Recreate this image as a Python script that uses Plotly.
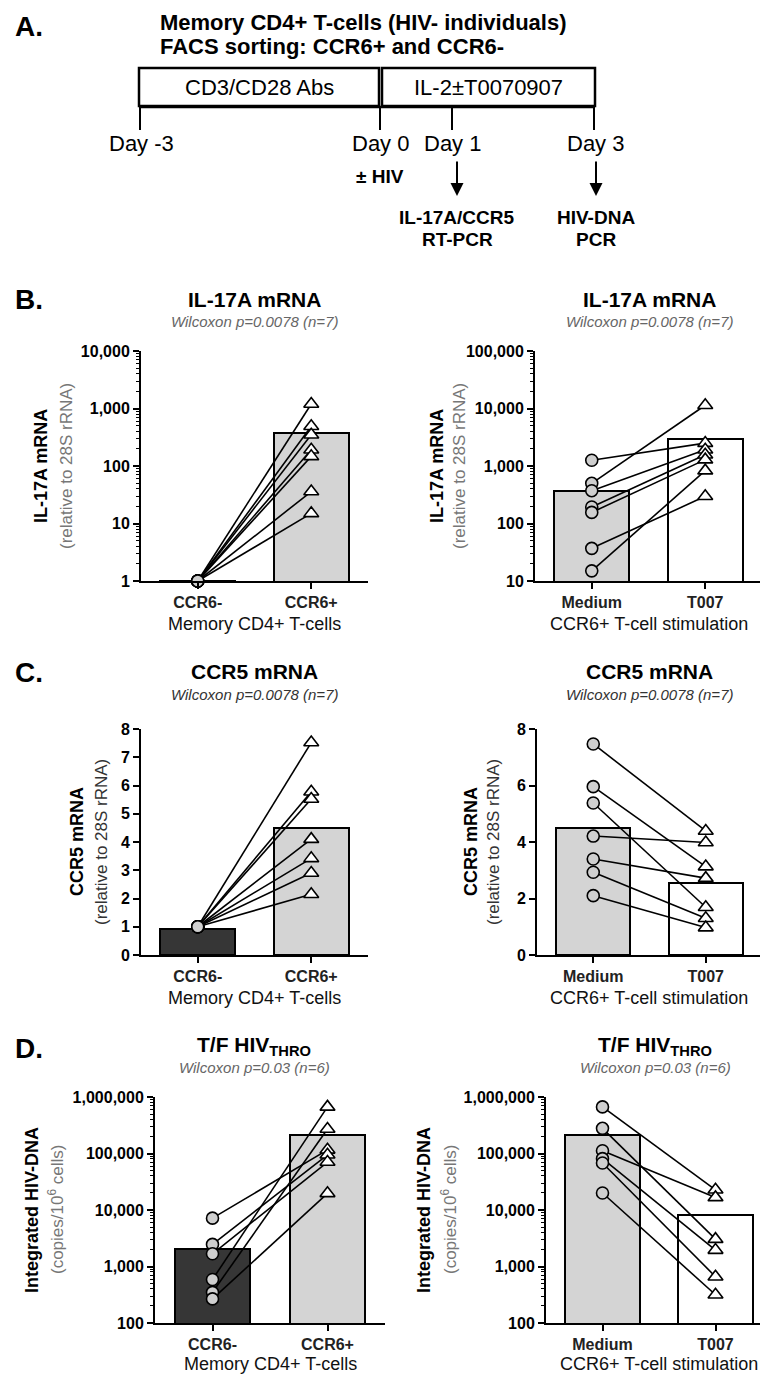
import math
import plotly.graph_objects as go

W, H = 768, 1376

# ---- values ----
mem_cats = ["CCR6-", "CCR6+"]
stim_cats = ["Medium", "T007"]

il17_ccr6_neg = [1, 1, 1, 1, 1, 1, 1]
il17_ccr6_pos = [1200, 490, 350, 192, 147, 36, 15]
il17_mem_bars = [1, 370]

il17_medium = [1260, 500, 372, 194, 156, 37, 15]
il17_t007 = [2500, 11400, 1920, 1570, 1290, 297, 830]
il17_stim_bars = [370, 2950]

ccr5_ccr6_neg = [1, 1, 1, 1, 1, 1, 1]
ccr5_ccr6_pos = [7.52, 5.78, 5.52, 4.10, 3.42, 2.90, 2.15]
ccr5_mem_bars = [0.93, 4.49]

ccr5_medium = [7.47, 5.96, 5.38, 4.21, 3.40, 2.93, 2.10]
ccr5_t007 = [4.39, 3.13, 1.69, 3.98, 2.72, 1.30, 0.97]
ccr5_stim_bars = [4.49, 2.56]

hiv_ccr6_neg = [7180, 2460, 1680, 590, 349, 267]
hiv_ccr6_pos = [116000, 95000, 70700, 668000, 271000, 19700]
hiv_mem_bars = [2060, 212000]

hiv_medium = [668000, 279000, 112000, 81000, 68000, 20000]
hiv_t007 = [22800, 3050, 16700, 1950, 660, 316]
hiv_stim_bars = [212000, 8020]

il17_mem_ticks = [1, 10, 100, 1000, 10000]
il17_stim_ticks = [10, 100, 1000, 10000, 100000]
ccr5_mem_ticks = [0, 1, 2, 3, 4, 5, 6, 7, 8]
ccr5_stim_ticks = [0, 2, 4, 6, 8]
hiv_ticks = [100, 1000, 10000, 100000, 1000000]

FONT = "Liberation Sans, Arial, sans-serif"
GREY = "#d4d4d4"
DARK = "#363636"


def px(x):
    return x / W


def py(y):
    return 1 - y / H


fig = go.Figure()
layout = {}
annotations = []


def add_panel(n, cats, left, right, bars, bar_colors, box, ytype, yticks):
    xa = "x" if n == 1 else f"x{n}"
    ya = "y" if n == 1 else f"y{n}"
    fig.add_trace(go.Bar(x=cats, y=bars, width=0.66,
                         marker=dict(color=bar_colors, line=dict(color="black", width=2)),
                         xaxis=xa, yaxis=ya))
    lx, ly = [], []
    for a, b in zip(left, right):
        lx += [cats[0], cats[1], None]
        ly += [a, b, None]
    fig.add_trace(go.Scatter(x=lx, y=ly, mode="lines", line=dict(color="black", width=1.6),
                             cliponaxis=False, xaxis=xa, yaxis=ya))
    fig.add_trace(go.Scatter(x=[cats[0]] * len(left), y=left, mode="markers", cliponaxis=False,
                             marker=dict(symbol="circle", size=12, color="#cfcfcf",
                                         line=dict(color="black", width=1.6)),
                             xaxis=xa, yaxis=ya))
    fig.add_trace(go.Scatter(x=[cats[1]] * len(right), y=right, mode="markers", cliponaxis=False,
                             marker=dict(symbol="triangle-up", size=13, color="white",
                                         line=dict(color="black", width=1.6)),
                             xaxis=xa, yaxis=ya))

    x0, x1, y0, y1 = box
    xkey = "xaxis" if n == 1 else f"xaxis{n}"
    ykey = "yaxis" if n == 1 else f"yaxis{n}"
    layout[xkey] = dict(domain=[px(x0), px(x1)], anchor=ya, range=[-0.5, 1.5],
                        showline=True, linewidth=2, linecolor="black",
                        ticks="outside", ticklen=6, tickwidth=2, tickcolor="black",
                        tickfont=dict(size=16, color="#222", weight="bold"),
                        showgrid=False, zeroline=False, automargin=False)
    yax = dict(domain=[py(y1), py(y0)], anchor=xa,
               showline=True, linewidth=2, linecolor="black",
               ticks="outside", ticklen=6, tickwidth=2, tickcolor="black",
               tickfont=dict(size=16, color="black", weight="bold"),
               tickmode="array", tickvals=yticks,
               showgrid=False, zeroline=False, automargin=False)
    if ytype == "log":
        yax.update(type="log", range=[math.log10(yticks[0]), math.log10(yticks[-1])],
                   ticktext=[f"{v:,}" for v in yticks],
                   minor=dict(ticks="outside", ticklen=3, tickwidth=1, tickcolor="black",
                              dtick="D1", showgrid=False))
    else:
        yax.update(range=[yticks[0], yticks[-1]], ticktext=[str(v) for v in yticks])
    layout[ykey] = yax


add_panel(1, mem_cats, il17_ccr6_neg, il17_ccr6_pos, il17_mem_bars, [DARK, GREY],
          (133, 360, 343, 573), "log", il17_mem_ticks)
add_panel(2, stim_cats, il17_medium, il17_t007, il17_stim_bars, [GREY, "white"],
          (527, 754, 343, 573), "log", il17_stim_ticks)
add_panel(3, mem_cats, ccr5_ccr6_neg, ccr5_ccr6_pos, ccr5_mem_bars, [DARK, GREY],
          (133, 360, 721, 947), "linear", ccr5_mem_ticks)
add_panel(4, stim_cats, ccr5_medium, ccr5_t007, ccr5_stim_bars, [GREY, "white"],
          (529, 754, 721, 947), "linear", ccr5_stim_ticks)
add_panel(5, mem_cats, hiv_ccr6_neg, hiv_ccr6_pos, hiv_mem_bars, [DARK, GREY],
          (147, 377, 1089, 1315), "log", hiv_ticks)
add_panel(6, stim_cats, hiv_medium, hiv_t007, hiv_stim_bars, [GREY, "white"],
          (538, 764, 1089, 1315), "log", hiv_ticks)


def text(x, y, s, size=16, color="black", angle=0, xanchor="center"):
    annotations.append(dict(x=px(x), y=py(y), xref="paper", yref="paper", text=s,
                            showarrow=False, textangle=angle, xanchor=xanchor, yanchor="middle",
                            font=dict(size=size, color=color, family=FONT)))


# panel letters
for letter, y in [("A.", 18), ("B.", 292), ("C.", 664), ("D.", 1040)]:
    text(5, y, f"<b>{letter}</b>", size=28, xanchor="left")

# panel titles and subtitles
titles = [
    (246, 291, 313, "IL-17A mRNA", "Wilcoxon p=0.0078 (n=7)", "#666"),
    (641, 291, 313, "IL-17A mRNA", "Wilcoxon p=0.0078 (n=7)", "#666"),
    (246, 663, 687, "CCR5 mRNA", "Wilcoxon p=0.0078 (n=7)", "#333"),
    (641, 663, 687, "CCR5 mRNA", "Wilcoxon p=0.0078 (n=7)", "#333"),
    (246, 1038, 1059, "T/F HIV<sub>THRO</sub>", "Wilcoxon p=0.03 (n=6)", "#666"),
    (647, 1038, 1059, "T/F HIV<sub>THRO</sub>", "Wilcoxon p=0.03 (n=6)", "#666"),
]
for x, yt, ys, t, s, c in titles:
    text(x, yt, f"<b>{t}</b>", size=21)
    text(x, ys, f"<i>{s}</i>", size=15, color=c)

# y-axis titles
ytitles = [
    (33, 58, 458, "IL-17A mRNA", "(relative to 28S rRNA)", "#777"),
    (429, 451, 458, "IL-17A mRNA", "(relative to 28S rRNA)", "#777"),
    (69, 93, 834, "CCR5 mRNA", "(relative to 28S rRNA)", "#333"),
    (463, 485, 834, "CCR5 mRNA", "(relative to 28S rRNA)", "#333"),
    (24, 48, 1202, "Integrated HIV-DNA", "(copies/10<sup>6</sup> cells)", "#777"),
    (416, 441, 1202, "Integrated HIV-DNA", "(copies/10<sup>6</sup> cells)", "#777"),
]
for xb, xg, y, t, s, c in ytitles:
    text(xb, y, f"<b>{t}</b>", size=18, angle=-90)
    text(xg, y, s, size=17, color=c, angle=-90)

# x-axis titles
for x, y, t in [(246, 616, "Memory CD4+ T-cells"), (641, 616, "CCR6+ T-cell stimulation"),
                (246, 990, "Memory CD4+ T-cells"), (641, 990, "CCR6+ T-cell stimulation"),
                (262, 1356, "Memory CD4+ T-cells"), (651, 1356, "CCR6+ T-cell stimulation")]:
    text(x, y, t, size=18, color="#111")

# ---- panel A: protocol timeline ----
text(150, 14, "<b>Memory CD4+ T-cells (HIV- individuals)</b>", size=22, xanchor="left")
text(150, 38, "<b>FACS sorting: CCR6+ and CCR6-</b>", size=22, xanchor="left")
text(251, 79, "CD3/CD28 Abs", size=22)
text(480, 79, "IL-2±T0070907", size=22)
for x, lab in [(133, "Day -3"), (372, "Day 0"), (444, "Day 1"), (587, "Day 3")]:
    text(x, 136, lab, size=22)
text(372, 168, "<b>± HIV</b>", size=19)
text(449, 210, "<b>IL-17A/CCR5</b>", size=19)
text(449, 231, "<b>RT-PCR</b>", size=19)
text(588, 210, "<b>HIV-DNA</b>", size=19)
text(588, 231, "<b>PCR</b>", size=19)
for x in [449, 588]:
    annotations.append(dict(x=px(x), y=py(188), xref="paper", yref="paper", text="",
                            showarrow=True, ax=0, ay=-36, arrowhead=2, arrowsize=1.3,
                            arrowwidth=2, arrowcolor="black"))

shapes = [
    dict(type="rect", xref="paper", yref="paper", x0=px(131), x1=px(371), y0=py(98), y1=py(60),
         line=dict(color="black", width=2.5)),
    dict(type="rect", xref="paper", yref="paper", x0=px(374), x1=px(587), y0=py(98), y1=py(60),
         line=dict(color="black", width=2.5)),
    dict(type="line", xref="paper", yref="paper", x0=px(131), x1=px(587), y0=py(99), y1=py(99),
         line=dict(color="black", width=2.5)),
]
for x in [132, 372, 444, 586]:
    shapes.append(dict(type="line", xref="paper", yref="paper", x0=px(x), x1=px(x),
                       y0=py(99), y1=py(122), line=dict(color="black", width=2)))

fig.update_layout(**layout)
fig.update_layout(
    width=W, height=H,
    margin=dict(l=0, r=0, t=0, b=0),
    paper_bgcolor="white", plot_bgcolor="white",
    showlegend=False, bargap=0,
    font=dict(family=FONT, color="black"),
    annotations=annotations, shapes=shapes,
)

fig.write_html("out.html")
